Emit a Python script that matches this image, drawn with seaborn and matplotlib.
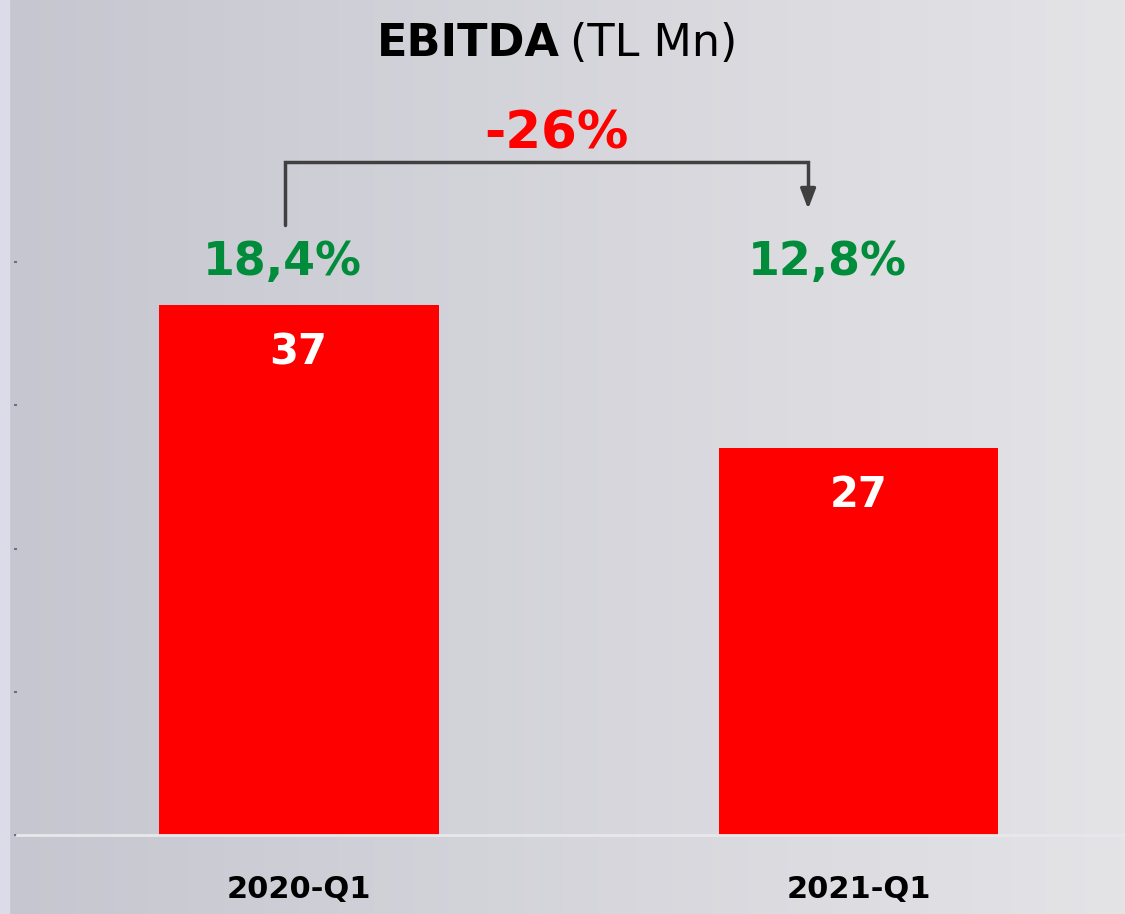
import matplotlib

matplotlib.use("Agg")
import matplotlib.pyplot as plt
import numpy as np
import seaborn as sns

quarters = ["2020-Q1", "2021-Q1"]
ebitda = [37, 27]
margins = ["18,4%", "12,8%"]
change_label = "-26%"

sns.set_theme(style="white")
plt.rcParams["font.family"] = ["DejaVu Sans"]

fig = plt.figure(figsize=(11.25, 9.14), dpi=100)

# gradient background like the slide
bg = fig.add_axes([0, 0, 1, 1], zorder=-1)
grad = np.linspace(0, 1, 256)
left_col = np.array([198, 198, 208]) / 255
right_col = np.array([228, 228, 231]) / 255
img = left_col[None, :] + grad[:, None] * (right_col - left_col)[None, :]
img = np.tile(img[None, :, :], (2, 1, 1))
bg.imshow(img, aspect="auto", extent=[0, 1, 0, 1])
bg.axvspan(0, 9 / 1125, color="#dcdce8")
bg.set_xlim(0, 1)
bg.set_ylim(0, 1)
bg.axis("off")

ax = fig.add_axes([17 / 1125, 79 / 914, 1108 / 1125, 573 / 914])
ax.patch.set_alpha(0)

sns.barplot(x=quarters, y=ebitda, color="#ff0000", saturation=1, width=0.5,
            linewidth=0, ax=ax)

ax.set_xlim(-0.503, 1.476)
ax.set_ylim(0, 39.8)
ax.set_yticks([0, 10, 20, 30, 40])
ax.set_yticklabels([])
ax.tick_params(axis="y", left=True, length=2.5, width=1.5, color="#6e6e7c", direction="out")
ax.tick_params(axis="x", length=0, pad=29)
for lbl in ax.get_xticklabels():
    lbl.set_fontweight("bold")
    lbl.set_fontsize(22)
    lbl.set_color("black")
ax.set_xlabel("")
ax.set_ylabel("")
for side in ["top", "right", "left"]:
    ax.spines[side].set_visible(False)
ax.spines["bottom"].set_color("#e8e8ec")
ax.spines["bottom"].set_linewidth(2)

# values inside the bars
for i, v in enumerate(ebitda):
    ax.text(i, v - 3.3, str(v), ha="center", va="center", color="white",
            fontsize=30, fontweight="bold")

# margin labels above
for i, m in enumerate(margins):
    ax.text(i - 0.03 - 0.025 * i, 40.0, m, ha="center", va="center", color="#008c3a",
            fontsize=33, fontweight="bold", clip_on=False)

# bracket with arrow showing change
x0, x1 = 0 - 0.024, 1 - 0.09
y_low, y_top, y_tip = 42.6, 47.0, 43.5
ax.plot([x0, x0, x1, x1], [y_low, y_top, y_top, y_tip + 0.9], color="#404040", lw=2.5,
        clip_on=False, solid_joinstyle="miter")
ax.annotate("", xy=(x1, y_tip), xytext=(x1, y_tip + 1.2),
            arrowprops=dict(arrowstyle="-|>,head_length=1.0,head_width=0.38", color="#404040", lw=2.5),
            annotation_clip=False)
ax.text((0 + 1) / 2 - 0.04, 48.9, change_label, ha="center", va="center", color="#ff0000",
        fontsize=37, fontweight="bold", clip_on=False)

# title
fig.text(560 / 1125, 1 - 56 / 914, "EBITDA", ha="right", va="baseline", fontsize=32,
         fontweight="bold", color="black")
fig.text(570 / 1125, 1 - 56 / 914, "(TL Mn)", ha="left", va="baseline", fontsize=32,
         color="black")

fig.savefig("out.png", dpi=100)
